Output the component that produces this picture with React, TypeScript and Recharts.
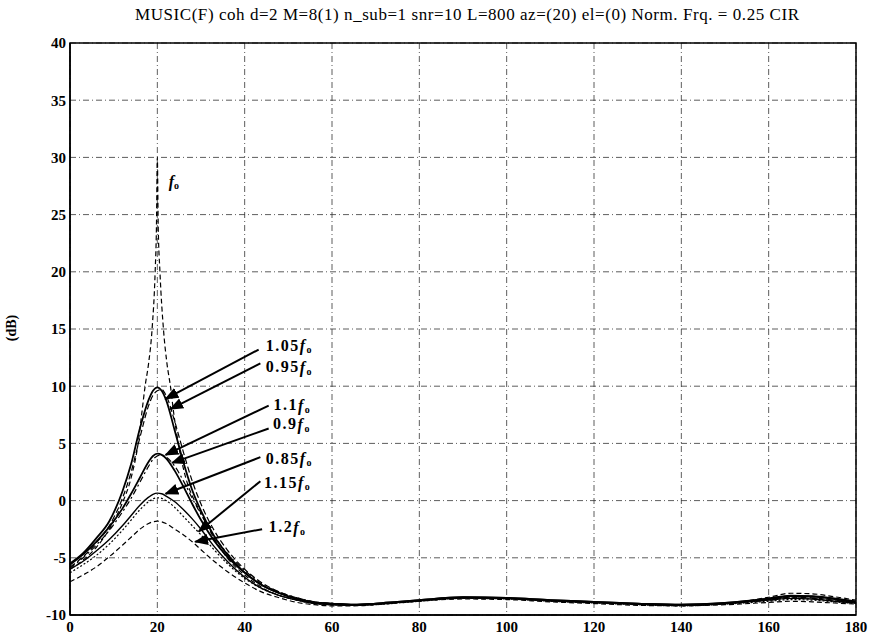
import {
  LineChart,
  Line,
  XAxis,
  YAxis,
  CartesianGrid,
  ReferenceArea,
} from "recharts";

// x positions shared by the broad curves
const XS = [
  0, 3, 6, 9, 12, 14, 16, 18, 19, 20, 21, 22, 24, 26, 28, 30, 33, 36, 40, 44,
  48, 52, 56, 60, 65, 70, 75, 80, 90, 100, 110, 120, 130, 140, 150, 160, 165,
  170, 175, 180,
];

// the f0 curve needs extra points around the spike
const F0_X = [
  0, 3, 6, 9, 12, 14, 15.6, 16.4, 17.2, 18, 18.8, 19.5, 19.8, 20, 20.2, 20.6,
  21.4, 22.2, 23, 23.8, 24.8, 26.5, 28.5, 30, 33, 36, 40, 44, 48, 52, 56, 60,
  65, 70, 75, 80, 90, 100, 110, 120, 130, 140, 150, 160, 165, 170, 175, 180,
];
const F0_Y = [
  -6.0, -5.2, -4.1, -2.5, -0.2, 2.0, 5.0, 7.5, 10, 12, 15, 20, 24, 30, 24, 20,
  15, 12, 10, 7.5, 5.0, 2.0, 0, -1.1, -3.3, -5.0, -6.5, -7.6, -8.3, -8.7,
  -8.95, -9.05, -9.15, -9.05, -8.9, -8.75, -8.5, -8.55, -8.75, -8.9, -9.05,
  -9.15, -9.0, -8.45, -8.1, -8.15, -8.4, -8.7,
];

const S105 = [
  -5.5, -4.6, -3.3, -1.8, 0.8, 3.2, 6.3, 8.8, 9.6, 9.9, 9.6, 8.8, 6.1, 3.3,
  0.9, -0.9, -3.1, -4.7, -6.3, -7.4, -8.1, -8.6, -8.9, -9.0, -9.1, -9.0, -8.85,
  -8.7, -8.45, -8.5, -8.7, -8.85, -9.0, -9.1, -8.95, -8.55, -8.3, -8.35, -8.55,
  -8.8,
];
const S095 = [
  -5.8, -4.9, -3.7, -2.2, 0.2, 2.5, 5.5, 8.3, 9.2, 9.6, 9.7, 9.2, 6.9, 4.2,
  1.7, -0.3, -2.6, -4.3, -6.0, -7.2, -8.0, -8.5, -8.85, -9.0, -9.1, -9.05,
  -8.9, -8.75, -8.5, -8.55, -8.75, -8.9, -9.05, -9.15, -9.0, -8.65, -8.45,
  -8.5, -8.7, -8.9,
];
const S110 = [
  -5.6, -4.7, -3.6, -2.3, -0.7, 0.6, 2.0, 3.4, 3.9, 4.1, 4.0, 3.7, 2.6, 1.2,
  -0.3, -1.7, -3.5, -4.9, -6.3, -7.4, -8.1, -8.6, -8.9, -9.0, -9.1, -9.0,
  -8.85, -8.7, -8.45, -8.5, -8.7, -8.85, -9.0, -9.1, -8.95, -8.6, -8.35, -8.4,
  -8.6, -8.85,
];
const S090 = [
  -5.9, -5.0, -3.9, -2.6, -1.0, 0.2, 1.6, 3.0, 3.6, 3.9, 4.0, 3.8, 3.0, 1.7,
  0.2, -1.2, -3.1, -4.6, -6.1, -7.3, -8.0, -8.5, -8.85, -9.0, -9.1, -9.05,
  -8.9, -8.75, -8.5, -8.55, -8.75, -8.9, -9.05, -9.15, -9.0, -8.7, -8.5,
  -8.55, -8.75, -8.95,
];
const S085 = [
  -6.0, -5.3, -4.4, -3.4, -2.2, -1.3, -0.4, 0.3, 0.55, 0.65, 0.6, 0.4, -0.1,
  -0.8, -1.6, -2.5, -4.0, -5.3, -6.7, -7.7, -8.3, -8.7, -9.0, -9.1, -9.15,
  -9.05, -8.9, -8.75, -8.5, -8.55, -8.75, -8.9, -9.05, -9.15, -9.0, -8.7,
  -8.55, -8.6, -8.8, -8.95,
];
const S115 = [
  -6.3, -5.6, -4.8, -3.8, -2.6, -1.7, -0.8, -0.1, 0.15, 0.25, 0.2, 0.0, -0.6,
  -1.4, -2.2, -3.0, -4.3, -5.5, -6.8, -7.7, -8.3, -8.7, -9.0, -9.1, -9.15,
  -9.1, -8.95, -8.8, -8.55, -8.6, -8.8, -8.95, -9.1, -9.2, -9.05, -8.8, -8.65,
  -8.7, -8.85, -9.0,
];
const S120 = [
  -7.1, -6.5, -5.8, -4.9, -3.9, -3.2, -2.5, -2.0, -1.85, -1.8, -1.85, -2.0,
  -2.5, -3.0, -3.6, -4.3, -5.3, -6.2, -7.2, -8.0, -8.5, -8.9, -9.1, -9.2,
  -9.2, -9.1, -8.95, -8.8, -8.6, -8.65, -8.85, -9.0, -9.15, -9.2, -9.1, -8.9,
  -8.8, -8.85, -8.95, -9.05,
];

const X_TICKS = [0, 20, 40, 60, 80, 100, 120, 140, 160, 180];
const Y_TICKS = [-10, -5, 0, 5, 10, 15, 20, 25, 30, 35, 40];

const TITLE =
  "MUSIC(F) coh d=2 M=8(1) n_sub=1 snr=10 L=800 az=(20) el=(0)  Norm. Frq. = 0.25 CIR";

// label text, arrow start, arrow tip, text anchor (data units)
const NOTES = [
  { num: "1.05", from: [43.2, 13.2], to: [21.9, 8.9], at: [44.8, 13.6] },
  { num: "0.95", from: [43.6, 12.0], to: [23.0, 8.0], at: [44.8, 11.7] },
  { num: "1.1", from: [45.5, 8.3], to: [21.9, 4.0], at: [46.6, 8.4] },
  { num: "0.9", from: [45.5, 6.3], to: [23.4, 3.3], at: [46.5, 6.7] },
  { num: "0.85", from: [43.6, 3.8], to: [21.9, 0.6], at: [44.8, 3.7] },
  { num: "1.15", from: [43.6, 1.7], to: [29.5, -2.7], at: [44.4, 1.6] },
  { num: "1.2", from: [44.0, -2.5], to: [28.7, -3.6], at: [45.5, -2.3] },
];

const W = 873;
const H = 639;
const LEFT = 70;
const TOP = 43;
const PW = 786;
const PH = 572;

const px = (x: number) => LEFT + (x / 180) * PW;
const py = (y: number) => TOP + ((40 - y) / 50) * PH;

const rows = (xs: number[], ys: number[]) =>
  xs.map((x, i) => ({ x, y: ys[i] }));

const SERIES = [
  { key: "f0", data: rows(F0_X, F0_Y), w: 1.2, dash: "5 3" },
  { key: "1.05", data: rows(XS, S105), w: 1.8, dash: undefined },
  { key: "0.95", data: rows(XS, S095), w: 1.2, dash: "6 3" },
  { key: "1.1", data: rows(XS, S110), w: 1.8, dash: undefined },
  { key: "0.9", data: rows(XS, S090), w: 1.2, dash: "6 3 2 3" },
  { key: "0.85", data: rows(XS, S085), w: 1.4, dash: undefined },
  { key: "1.15", data: rows(XS, S115), w: 1.2, dash: "2 2" },
  { key: "1.2", data: rows(XS, S120), w: 1.2, dash: "5 3" },
];

const font = '"Liberation Serif", "DejaVu Serif", serif';

const App = () => {
  return (
    <div style={{ position: "absolute", left: 0, top: 0, width: W, height: H, background: "#fff" }}>
      <LineChart
        width={W}
        height={H}
        margin={{ top: TOP, right: W - LEFT - PW, bottom: H - TOP - PH - 1, left: 8 }}
      >
        <CartesianGrid stroke="#333" strokeWidth={0.8} strokeDasharray="6 3 1 3" />
        <XAxis
          type="number"
          dataKey="x"
          domain={[0, 180]}
          ticks={X_TICKS}
          allowDuplicatedCategory={false}
          height={1}
          tickSize={0}
          tickMargin={6}
          stroke="#000"
          strokeWidth={1.5}
          tick={{ fill: "#000", fontSize: 15, fontWeight: "bold", fontFamily: font }}
        />
        <YAxis
          type="number"
          domain={[-10, 40]}
          ticks={Y_TICKS}
          width={LEFT - 8}
          tickSize={0}
          tickMargin={4}
          stroke="#000"
          strokeWidth={1.5}
          tick={{ fill: "#000", fontSize: 15, fontWeight: "bold", fontFamily: font }}
        />
        <ReferenceArea x1={0} x2={180} y1={-10} y2={40} fill="none" stroke="#000" strokeWidth={1.5} />
        {SERIES.map((s) => (
          <Line
            key={s.key}
            data={s.data}
            dataKey="y"
            type="monotone"
            stroke="#000"
            strokeWidth={s.w}
            strokeDasharray={s.dash}
            dot={false}
            isAnimationActive={false}
          />
        ))}
      </LineChart>
      <svg
        width={W}
        height={H}
        style={{ position: "absolute", left: 0, top: 0, pointerEvents: "none" }}
      >
        <defs>
          <marker id="tip" viewBox="0 0 10 10" refX="9" refY="5" markerWidth="7" markerHeight="7" orient="auto">
            <path d="M0,1 L10,5 L0,9 z" fill="#000" />
          </marker>
        </defs>
        <text
          x={467}
          y={20}
          textAnchor="middle"
          fontFamily={font}
          fontSize={17}
          textLength={664}
          lengthAdjust="spacing"
          fill="#000"
        >
          {TITLE}
        </text>
        <text
          x={16}
          y={328}
          transform="rotate(-90 16 328)"
          textAnchor="middle"
          fontFamily={font}
          fontSize={14}
          fontWeight="bold"
          fill="#000"
        >
          (dB)
        </text>
        <text x={px(22.6)} y={py(27.9)} dominantBaseline="central" fontFamily={font} fontSize={16} fontWeight="bold" fontStyle="italic" fill="#000">
          f<tspan fontSize={10} dy={4} fontStyle="normal">o</tspan>
        </text>
        {NOTES.map((n) => (
          <g key={n.num}>
            <line
              x1={px(n.from[0])}
              y1={py(n.from[1])}
              x2={px(n.to[0])}
              y2={py(n.to[1])}
              stroke="#000"
              strokeWidth={2}
              markerEnd="url(#tip)"
            />
            <text
              x={px(n.at[0])}
              y={py(n.at[1])}
              dominantBaseline="central"
              fontFamily={font}
              fontSize={16}
              fontWeight="bold"
              letterSpacing={1.5}
              fill="#000"
            >
              {n.num}
              <tspan fontStyle="italic">f</tspan>
              <tspan fontSize={10} dy={4}>o</tspan>
            </text>
          </g>
        ))}
      </svg>
    </div>
  );
};

export default App;
